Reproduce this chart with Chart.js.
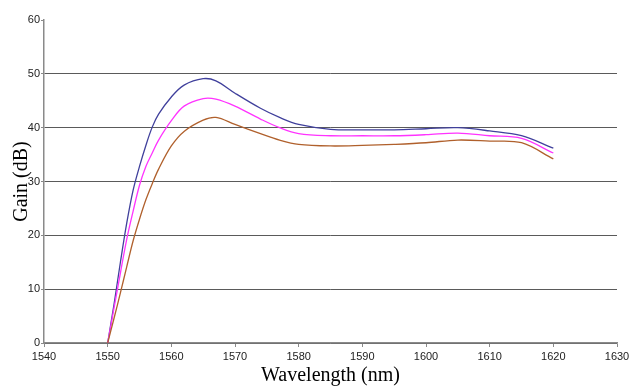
<!DOCTYPE html>
<html>
<head>
<meta charset="utf-8">
<script src="https://cdn.jsdelivr.net/npm/chart.js@4"></script>
<style>
  html, body { margin: 0; padding: 0; background: #fff; }
  #wrap { width: 633px; height: 388px; }
</style>
</head>
<body>
<div id="wrap"><canvas id="gainChart" width="633" height="388"></canvas></div>
<script>
// Дані
const wavelengths = [1550, 1551, 1552, 1553, 1554, 1555, 1556, 1557, 1558, 1560, 1562, 1565, 1567, 1570, 1574, 1577, 1580, 1585, 1590, 1595, 1600, 1605, 1610, 1615, 1620];
const gainBlue    = [0, 7.2, 15, 22.3, 28.4, 32.8, 36.7, 40.1, 42.5, 45.7, 47.9, 49.1, 48.7, 46.4, 43.6, 41.9, 40.6, 39.7, 39.6, 39.6, 39.8, 40, 39.4, 38.5, 36.2];
const gainMagenta = [0, 6.5, 13, 19.3, 24.5, 29.3, 32.8, 35.3, 37.7, 41.3, 44.0, 45.4, 45.3, 44, 41.6, 40, 38.9, 38.5, 38.5, 38.5, 38.7, 39.0, 38.5, 38.0, 35.3];
const gainBrown   = [0, 4.6, 9.3, 14.2, 19, 23, 26.6, 29.6, 32.3, 36.6, 39.3, 41.4, 41.9, 40.6, 38.9, 37.7, 36.9, 36.6, 36.7, 36.9, 37.2, 37.7, 37.5, 37.2, 34.2];
const xTicks = [1540, 1550, 1560, 1570, 1580, 1590, 1600, 1610, 1620, 1630];
const yTicks = [0, 10, 20, 30, 40, 50, 60];

function toPoints(ys) {
    return wavelengths.map((x, i) => ({ x: x, y: ys[i] }));
}

function series(data, color) {
    return {
        data: toPoints(data),
        borderColor: color,
        borderWidth: 1.3,
        pointRadius: 0,
        fill: false,
        tension: 0.35
    };
}

const config = {
    type: 'line',
    data: {
        datasets: [
            series(gainBrown, '#b0602c'),
            series(gainMagenta, '#ff33ff'),
            series(gainBlue, '#40409c')
        ]
    },
    options: {
        responsive: false,
        animation: false,
        layout: { padding: { top: 20, right: 16, left: 0, bottom: 0 } },
        plugins: {
            legend: { display: false },
            tooltip: { enabled: false }
        },
        scales: {
            x: {
                type: 'linear',
                min: 1540,
                max: 1630,
                afterBuildTicks: s => { s.ticks = xTicks.map(v => ({ value: v })); },
                afterFit: s => { s.height = 45; },
                border: { color: '#8a8a8a', width: 1.5 },
                grid: { drawOnChartArea: false, drawTicks: true, tickLength: 4, tickColor: '#8a8a8a' },
                ticks: {
                    color: '#222',
                    font: { family: 'Liberation Sans', size: 11 },
                    padding: 3,
                    maxRotation: 0,
                    callback: v => String(v)
                },
                title: {
                    display: true,
                    text: 'Wavelength (nm)',
                    color: '#000',
                    font: { family: 'Liberation Serif', size: 20 },
                    padding: { top: 0, bottom: 0 }
                }
            },
            y: {
                min: 0,
                max: 60,
                afterBuildTicks: s => { s.ticks = yTicks.map(v => ({ value: v })); },
                afterFit: s => { s.width = 44; },
                border: { color: '#8a8a8a', width: 1.5 },
                grid: {
                    color: c => (c.tick && c.tick.value === 60) ? 'rgba(0,0,0,0)' : '#5a5a5a',
                    tickColor: '#8a8a8a',
                    tickLength: 3,
                    lineWidth: 1
                },
                ticks: { color: '#222', font: { family: 'Liberation Sans', size: 11 }, padding: 1 },
                title: {
                    display: true,
                    text: 'Gain (dB)',
                    color: '#000',
                    font: { family: 'Liberation Serif', size: 20 },
                    padding: { top: 10, bottom: 0 }
                }
            }
        }
    }
};

const ctx = document.getElementById('gainChart').getContext('2d');
new Chart(ctx, config);
</script>
</body>
</html>
